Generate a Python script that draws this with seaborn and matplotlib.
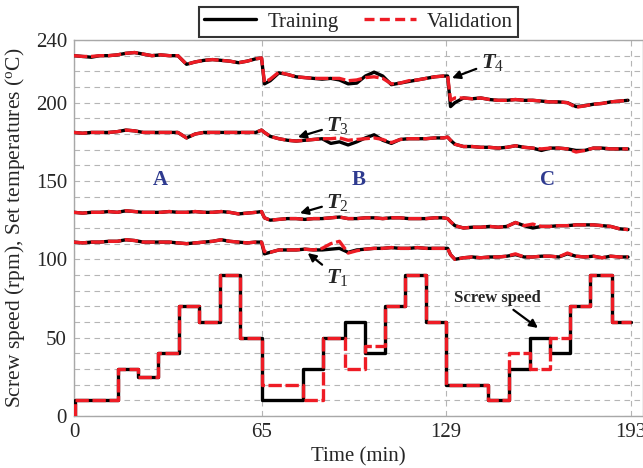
import numpy as np
import pandas as pd
import matplotlib
matplotlib.use('Agg')
import matplotlib.pyplot as plt
from matplotlib.lines import Line2D
import seaborn as sns

# screw speed set points (step changes, steps-post)
t_speed = [0, 0.3, 15.3, 22.3, 29.2, 36.4, 43.4, 50.6, 57.6, 65, 79.4, 86.4, 93.9,
           100.8, 107.8, 114.7, 122, 129, 143.5, 150.8, 158, 165, 171.9, 178.8, 186.4, 193]
speed_train = [0, 10, 30, 25, 40, 70, 60, 90, 50, 10, 30, 50, 60,
               40, 70, 90, 60, 20, 10, 30, 50, 40, 70, 90, 60, 60]
speed_valid = [0, 10, 30, 25, 40, 70, 60, 90, 50, 20, 10, 50, 30,
               45, 70, 90, 60, 20, 10, 40, 30, 50, 70, 90, 60, 60]

# set temperatures, sampled along time
t_temp = [0, 3, 6, 9, 12, 15, 18, 21, 24, 27, 30, 33, 36, 39, 42, 45, 48, 51, 54, 57,
          60, 63, 65, 66, 68, 71, 74, 77, 80, 83, 86, 89, 92, 95, 98, 101, 104, 107, 110,
          113, 116, 119, 122, 125, 128, 129.5, 130.5, 132, 135, 138, 141, 144, 147, 150,
          153, 156, 159, 162, 165, 168, 171, 174, 177, 180, 183, 186, 189, 192]

T4_train = [230, 229.5, 229, 230, 230, 230.5, 231.5, 232, 231, 230, 230.5, 230, 230, 224.5,
            226, 227, 227.5, 227, 226.5, 225.5, 226.5, 228, 228.5, 212, 214, 219, 218, 216.5,
            216, 215.5, 215, 215.5, 214.5, 212, 212.5, 217, 219.5, 217, 211.5, 212.5, 213.5,
            214.5, 215.5, 216.5, 217, 217, 197.5, 200, 203, 202.5, 203, 202, 201.5, 201.5,
            202, 201.5, 201.5, 201, 200.5, 200.5, 200, 197.5, 198, 199, 199.5, 200.5, 201, 201.5]
T4_valid = [230, 229.5, 229.5, 230, 230, 230.5, 231.5, 232, 231, 230, 230.5, 230, 230, 224.5,
            226, 227, 227.5, 227, 226.5, 225.5, 226.5, 228, 228.5, 213, 215, 219.5, 218, 216.5,
            216, 215.5, 215.5, 215.5, 215.5, 214, 214.5, 216, 216.5, 215.5, 212, 212.5, 214,
            214.5, 215.5, 216.5, 217, 217, 201.5, 203, 203, 202.5, 203, 202, 201.5, 201.5,
            202, 201.5, 201.5, 201, 200.5, 200.5, 200, 197, 198, 199, 199.5, 200.5, 201, 201.5]

T3_train = [181, 180.5, 181, 181, 181, 181.5, 182.5, 182, 181, 181, 181, 181, 181, 177.5,
            180, 181, 181, 181, 181, 181, 181, 181, 182.5, 181, 178.5, 177, 176, 175.5, 176,
            176.5, 177, 174, 175, 173, 175, 177.5, 179.5, 176, 174, 176.5, 177, 177, 177,
            177.5, 177.5, 178, 176, 173.5, 172, 172, 171.5, 171.5, 171, 171.5, 172.5, 171.5,
            171, 169.5, 171, 171, 170.5, 169.5, 169.5, 171, 171, 170.5, 170.5, 170.5]
T3_valid = [181, 180.5, 181, 181, 181, 181.5, 182.5, 182, 181, 181, 181, 181, 181, 177.5,
            180, 181, 181, 181, 181, 181, 181, 181, 182.5, 181, 178.5, 177, 176, 175.5, 176,
            176.5, 177, 177, 177.5, 176, 176.5, 177, 177.5, 176.5, 174.5, 176.5, 177, 177, 177,
            177.5, 177.5, 178, 176, 173.5, 172, 172, 171.5, 171.5, 171, 171.5, 172.5, 171.5,
            171, 170.5, 171, 171, 170.5, 168.5, 169.5, 171, 171, 170.5, 170.5, 170.5]

T2_train = [130, 129.5, 130, 130, 130.5, 130, 131, 130.5, 130, 130, 130, 130.5, 130, 130,
            130.5, 130, 130, 130.5, 130, 129, 129.5, 130, 130.5, 126.5, 125, 125.5, 126, 126,
            125.5, 126, 126, 126.5, 127, 126, 126, 126.5, 126.5, 126, 126.5, 126.5, 126, 126,
            126, 126.5, 126.5, 126, 124, 121.5, 120, 120.5, 120.5, 121, 120.5, 121, 123.5,
            121.5, 120, 121, 121, 121.5, 121.5, 122, 122, 122, 121.5, 121, 119.5, 119]
T2_valid = [130, 129.5, 130, 130, 130.5, 130, 131, 130.5, 130, 130, 130, 130.5, 130, 130,
            130.5, 130, 130, 130.5, 130, 129, 129.5, 130, 130.5, 126.5, 125, 125.5, 126, 126,
            125.5, 126, 126, 126.5, 127, 126, 126, 126.5, 126.5, 126, 126.5, 126.5, 126, 126,
            126, 126.5, 126.5, 126, 124, 121.5, 120, 120.5, 120.5, 121, 120.5, 121, 123.5,
            121.5, 122.5, 121, 121, 121.5, 121.5, 122, 122, 122, 121.5, 121, 119.5, 119]

T1_train = [111, 110.5, 111, 111, 111.5, 111.5, 112.5, 112, 111, 111, 111, 111, 110.5, 110,
            110.5, 111, 111.5, 112.5, 111.5, 111, 110.5, 111, 111, 103.5, 104.5, 106, 106, 106,
            106.5, 106, 106, 106.5, 107, 104.5, 106, 106.5, 107, 107, 107.5, 107, 107, 107.5,
            107, 107, 107, 107, 103, 100, 101, 101.5, 101, 101.5, 101.5, 102, 103, 101.5,
            101.5, 102, 102, 101.5, 103.5, 102, 101.5, 102, 101, 102, 101.5, 101.5]
T1_valid = [111, 110.5, 111, 111, 111.5, 111.5, 112.5, 112, 111, 111, 111, 111, 110.5, 110,
            110.5, 111, 111.5, 112.5, 111.5, 111, 110.5, 111, 111, 105, 104.5, 106, 106, 106,
            106.5, 106, 107, 110, 111.5, 104, 105.5, 106.5, 107, 107, 107.5, 107, 107, 107.5,
            107, 107, 107, 107, 103, 100, 101, 101.5, 101, 101.5, 101.5, 102, 103.5, 101.5,
            101.5, 102, 102, 101.5, 104, 102, 101.5, 102, 101, 102, 101.5, 101.5]

x_ticks = [0, 65, 129, 193]
y_labels = [0, 50, 100, 150, 200, 240]

sns.set_theme(style='white')
plt.rcParams['font.family'] = ['Liberation Serif', 'DejaVu Serif']
plt.rcParams['mathtext.fontset'] = 'custom'
plt.rcParams['mathtext.rm'] = 'Liberation Serif'
plt.rcParams['mathtext.it'] = 'Liberation Serif:italic'
plt.rcParams['mathtext.bf'] = 'Liberation Serif:italic:bold'

RED = '#ee1c25'
DASH = (0, (4, 1.1))
LW = 2.4

fig = plt.figure(figsize=(6.43, 4.68), dpi=100)
ax = fig.add_axes([74 / 643, 52 / 468, 569 / 643, 376 / 468])

train_sets = [(t_speed, speed_train, True), (t_temp, T1_train, False), (t_temp, T2_train, False),
              (t_temp, T3_train, False), (t_temp, T4_train, False)]
valid_sets = [(t_speed, speed_valid, True), (t_temp, T1_valid, False), (t_temp, T2_valid, False),
              (t_temp, T3_valid, False), (t_temp, T4_valid, False)]

for tt, vals, step in train_sets:
    df = pd.DataFrame({'t': tt, 'v': vals})
    sns.lineplot(data=df, x='t', y='v', ax=ax, color='black', linewidth=LW,
                 estimator=None, errorbar=None,
                 drawstyle='steps-post' if step else 'default', zorder=3)
for tt, vals, step in valid_sets:
    df = pd.DataFrame({'t': tt, 'v': vals})
    sns.lineplot(data=df, x='t', y='v', ax=ax, color=RED, linewidth=LW, linestyle=DASH,
                 estimator=None, errorbar=None,
                 drawstyle='steps-post' if step else 'default', zorder=4)

ax.set_xlim(0, 197.2)
ax.set_ylim(0, 240)
ax.set_xticks(x_ticks)
ax.set_xticklabels([str(v) for v in x_ticks])
ax.set_yticks(np.arange(0, 241, 10))
ax.set_yticklabels([str(v) if v in y_labels else '' for v in range(0, 241, 10)])
ax.tick_params(length=0, labelsize=15, pad=5)
ax.set_axisbelow(True)
ax.yaxis.grid(True, linestyle=(0, (5, 4)), color='#b5b5b5', linewidth=0.8)
for xv in x_ticks:
    ax.axvline(xv, linestyle=(0, (5, 4)), color='#b5b5b5', linewidth=0.8, zorder=0)
for side in ['left', 'bottom', 'top', 'right']:
    ax.spines[side].set_color('#a8a8a8')
    ax.spines[side].set_linewidth(1.0)

ax.set_xlabel('Time (min)', fontsize=15, labelpad=4)
ax.set_ylabel(r'Screw speed (rpm), Set temperatures ($^{\rm o}$C)', fontsize=15.5, labelpad=6)

# region labels
for lab, xv in [('A', 30.1), ('B', 98.8), ('C', 164.2)]:
    ax.text(xv, 150.6, lab, color='#2e3a8f', fontsize=15, fontweight='bold',
            ha='center', va='center')

arrow = dict(arrowstyle='-|>', color='black', lw=1.6, mutation_scale=12, shrinkA=1, shrinkB=0)
ax.annotate(r'$\mathbf{T}_4$', xy=(131, 215.7), xytext=(141, 225.5), fontsize=16,
            ha='left', va='center', arrowprops=arrow)
ax.annotate(r'$\mathbf{T}_3$', xy=(77.6, 178), xytext=(87.5, 185.7), fontsize=16,
            ha='left', va='center', arrowprops=arrow)
ax.annotate(r'$\mathbf{T}_2$', xy=(78.3, 129.5), xytext=(87.5, 136.5), fontsize=16,
            ha='left', va='center', arrowprops=arrow)
ax.annotate(r'$\mathbf{T}_1$', xy=(81, 104), xytext=(87.5, 88.5), fontsize=16,
            ha='left', va='center', arrowprops=arrow)
ax.annotate('Screw speed', xy=(160.8, 56.2), xytext=(146.6, 75.5), fontsize=12,
            fontweight='bold', ha='center', va='center', arrowprops=arrow)

handles = [Line2D([], [], color='black', linewidth=LW),
           Line2D([], [], color=RED, linewidth=LW, linestyle=(0, (3, 1.6)))]
leg = ax.legend(handles, ['Training', 'Validation'], loc='lower center',
                bbox_to_anchor=(0.5, 1.008), ncol=2, fontsize=15, frameon=True,
                fancybox=False, edgecolor='black', handlelength=2.5,
                borderaxespad=0, borderpad=0.25, columnspacing=1.2, handletextpad=0.55)
leg.get_frame().set_linewidth(1.5)

fig.savefig('out.png', dpi=100)
